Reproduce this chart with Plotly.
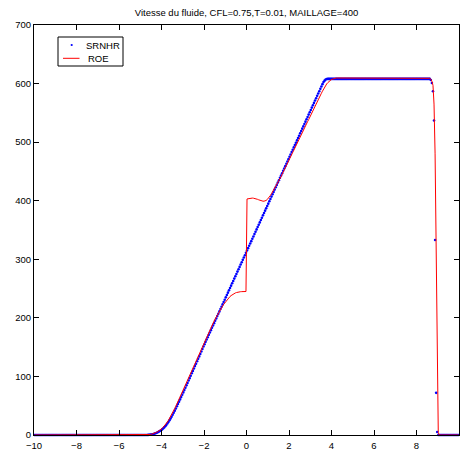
import numpy as np
import plotly.graph_objects as go

# ---------------- data ----------------
n_cells = 400                      # MAILLAGE = 400 on [-10, 10]
x_min, x_max = -10.0, 10.0
x_cells = x_min + (np.arange(n_cells) + 0.5) * (x_max - x_min) / n_cells

# SRNHR (blue dots)
srnhr_left_zero = [0.0] * 107
srnhr_toe = [0.2, 0.4, 0.6, 0.9, 1.3, 1.8, 2.4, 3.1, 3.9, 4.8,
             5.8, 6.9, 8.2, 9.6, 11.2, 13, 15, 17.2, 19.6, 22.2,
             25, 28, 31.2, 34.5, 38, 41.6, 45.3, 49.1, 53, 56.9,
             60.8, 64.7, 68.7, 72.7, 76.7, 80.7, 84.8, 88.9, 93, 97.1,
             101.2, 105.3, 109.4, 113.5, 117.6, 121.7, 125.8, 130, 134.2, 138.4,
             142.6, 146.8, 151]
srnhr_ramp = [155, 159, 163, 167, 171, 175, 179, 183, 187, 191,
              195, 199, 203, 207, 211, 215, 219, 223, 227, 231,
              235, 239, 243, 247, 251, 255, 259, 263, 267, 271,
              275, 279, 283, 287, 291, 295, 299, 303, 307, 311,
              315, 319, 323, 327, 331, 335, 339, 343, 347, 351,
              355, 359, 363, 367, 371, 375, 379, 383, 387, 391,
              395, 399, 403, 407, 411, 415, 419, 423, 427, 431,
              435, 439, 443, 447, 451, 455, 459, 463, 467, 471,
              475, 479, 483, 487, 491, 495, 499, 503, 507, 511,
              515, 519, 523, 527, 531, 535, 539, 543, 547, 551,
              555, 559, 563, 567, 571, 575, 579, 583, 587, 591,
              595, 599]
srnhr_corner = [602.5, 605, 606.8, 607.7]
srnhr_plateau = [608.0] * 97
srnhr_shock = [606, 601, 587, 537, 333, 72, 5]
srnhr_right_zero = [0.0] * 20
srnhr = (srnhr_left_zero + srnhr_toe + srnhr_ramp + srnhr_corner
         + srnhr_plateau + srnhr_shock + srnhr_right_zero)

# ROE (red line)
roe_left_zero = [0.0] * 106
roe_toe = srnhr_toe + [155]
roe_lower = [159, 163, 167, 171, 175, 179, 183, 187, 191, 194.5,
             198, 201.5, 205, 208, 211, 214, 217, 220, 223, 225.5,
             228, 230.5, 232.5, 234.5, 236.5, 238, 239.5, 240.5, 241.5, 242.5,
             243.2, 243.8, 244.2, 244.5, 244.7, 244.8, 244.9, 245, 245, 245]
roe_glitch = [403, 403.5, 404, 404.3, 404.5, 404.5, 404.3, 404, 403.5, 403,
              402.3, 401.5, 400.7, 400, 399.5, 399.2, 399.2, 399.6, 400.5, 402]
roe_upper = [404, 406.5, 409, 412, 415, 418, 421, 424, 427,
             430.5, 434, 437.5, 441, 445, 448.5, 452.5, 456, 460, 463.5,
             467.5, 471, 475, 478.5, 482.5, 486, 490, 493.5, 497.5, 501,
             505, 508.5, 512.5, 516, 520, 523.5, 527.5, 531, 535, 538.5,
             542.5, 546, 550, 553.5, 557.5, 561, 565, 568.5, 572.5, 576,
             580, 583.5, 587,
             590.5, 594, 597, 599.5, 601.5, 603.5, 605, 606.3, 607.3, 608.2,
             608.8, 609.2, 609.5]
roe_plateau = [609.5] * 87
roe_shock = [609, 607.5, 604, 597, 565, 480, 335, 150, 4]
roe_right_zero = [0.0] * 19
roe = (roe_left_zero + roe_toe + roe_lower + roe_glitch + roe_upper
       + roe_plateau + roe_shock + roe_right_zero)

x_ticks = [-10, -8, -6, -4, -2, 0, 2, 4, 6, 8, 10]
y_ticks = [0, 100, 200, 300, 400, 500, 600, 700]
title_text = "Vitesse du fluide, CFL=0.75,T=0.01, MAILLAGE=400"
series_names = ["SRNHR", "ROE"]

# ---------------- figure ----------------
FONT = "Liberation Sans, Arial, Helvetica, sans-serif"
W, H = 461, 454
ML, MR, MT, MB = 34, 2, 25, 19
PW, PH = W - ML - MR, H - MT - MB


def px_x(p):
    return (p - ML) / PW


def px_y(p):
    return (H - MB - p) / PH


fig = go.Figure()
fig.add_trace(go.Scatter(x=x_cells, y=srnhr, mode="markers", name=series_names[0],
                         marker=dict(color="#0000ff", size=2.6, line=dict(width=0)),
                         showlegend=False, cliponaxis=False))
fig.add_trace(go.Scatter(x=x_cells, y=roe, mode="lines", name=series_names[1],
                         line=dict(color="#ff0000", width=1),
                         showlegend=False, cliponaxis=False))

axis_common = dict(showline=True, linecolor="black", linewidth=1, mirror="ticks",
                   ticks="inside", ticklen=5, tickcolor="black", tickwidth=1,
                   showgrid=False, zeroline=False,
                   tickfont=dict(family=FONT, size=9.5, color="black"))
fig.update_xaxes(range=[x_min, x_max], tickvals=x_ticks, ticklabelstandoff=2,
                 **axis_common)
fig.update_yaxes(range=[0, 700], tickvals=y_ticks, **axis_common)

# legend box drawn as in the reference
shapes = [
    dict(type="rect", xref="paper", yref="paper",
         x0=px_x(58), x1=px_x(123), y0=px_y(66), y1=px_y(37),
         line=dict(color="black", width=1), fillcolor="white", layer="above"),
    dict(type="circle", xref="paper", yref="paper",
         x0=px_x(70.6), x1=px_x(72.8), y0=px_y(46.1), y1=px_y(43.9),
         line=dict(width=0), fillcolor="#0000ff", layer="above"),
    dict(type="line", xref="paper", yref="paper",
         x0=px_x(63), x1=px_x(79.5), y0=px_y(58.3), y1=px_y(58.3),
         line=dict(color="#ff0000", width=1), layer="above"),
]
annotations = [
    dict(text=series_names[0], xref="paper", yref="paper", x=px_x(83.5), y=px_y(45),
         xanchor="left", yanchor="middle", showarrow=False,
         font=dict(family=FONT, size=9.5, color="black")),
    dict(text=series_names[1], xref="paper", yref="paper", x=px_x(86), y=px_y(58.3),
         xanchor="left", yanchor="middle", showarrow=False,
         font=dict(family=FONT, size=9.5, color="black")),
]

fig.update_layout(
    width=W, height=H,
    margin=dict(l=ML, r=MR, t=MT, b=MB, pad=0),
    paper_bgcolor="white", plot_bgcolor="white",
    title=dict(text=title_text, x=0.5, xref="paper", xanchor="center",
               y=1 - 12.5 / H, yref="container", yanchor="middle",
               font=dict(family=FONT, size=9.5, color="black")),
    shapes=shapes, annotations=annotations,
    showlegend=False,
)

fig.write_html("out.html",
               config={"displayModeBar": False},
               post_script="document.body.style.margin='0px';"
                           "document.body.style.overflow='hidden';")
